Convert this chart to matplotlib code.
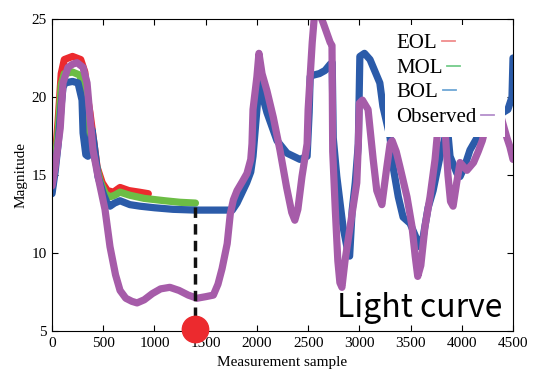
import matplotlib
matplotlib.use("Agg")
import matplotlib.pyplot as plt
from matplotlib.patches import Rectangle

# ---- data ----
obs_x = [0, 30, 60, 80, 107, 156, 200, 244, 303, 342, 371, 400, 449, 517,
         566, 620, 664, 720, 780, 830, 900, 980, 1060, 1150, 1240, 1330,
         1415, 1500, 1575, 1620, 1660, 1710, 1740, 1770, 1806, 1860, 1903,
         1940, 1952, 1962, 2000, 2020, 2050, 2098, 2160, 2225, 2290, 2340,
         2370, 2400, 2440, 2490, 2500, 2540, 2565, 2620, 2650, 2715, 2733,
         2740, 2765, 2790, 2810, 2830, 2860, 2910, 2975, 2990, 3000, 3030,
         3085, 3135, 3170, 3220, 3268, 3300, 3320, 3360, 3397, 3465, 3514,
         3545, 3570, 3600, 3641, 3690, 3739, 3760, 3800, 3840, 3865, 3890,
         3915, 3950, 3983, 4050, 4115, 4160, 4200, 4250, 4350, 4440, 4470,
         4500]
obs_y = [14.3, 15.5, 17.0, 18.0, 20.9, 21.9, 22.1, 22.2, 21.9, 20.9, 18.7,
         16.6, 14.9, 12.8, 10.4, 8.6, 7.6, 7.1, 6.9, 6.8, 7.0, 7.4, 7.7, 7.8,
         7.6, 7.3, 7.1, 7.2, 7.3, 8.0, 9.0, 10.6, 12.5, 13.4, 14.0, 14.6,
         15.1, 16.0, 17.0, 19.2, 21.3, 22.8, 21.5, 20.4, 18.7, 16.6, 14.2,
         12.6, 12.1, 12.8, 14.9, 17.0, 19.2, 23.5, 25.5, 25.2, 24.7, 23.5,
         23.3, 16.5, 12.8, 9.5, 8.1, 7.8, 9.5, 11.7, 14.5, 17.0, 19.6, 19.8,
         19.2, 16.0, 14.0, 13.1, 15.5, 17.0, 17.2, 16.5, 15.5, 13.6, 11.7,
         9.8, 8.5, 9.2, 11.7, 13.6, 16.0, 17.5, 18.5, 17.6, 15.0, 13.3, 13.0,
         14.5, 15.8, 15.3, 15.8, 16.5, 17.2, 18.5, 19.5, 17.4, 16.8, 16.0]

bol_x = [0, 30, 60, 90, 107, 127, 200, 254, 293, 303, 330, 350, 370, 390,
         410, 449, 500, 537, 566, 610, 664, 760, 860, 1000, 1181, 1400, 1640,
         1760, 1806, 1835, 1900, 1940, 1962, 2000, 2020, 2040, 2098, 2196,
         2294, 2420, 2490, 2510, 2520, 2550, 2610, 2665, 2715, 2735, 2745,
         2780, 2840, 2890, 2905, 2930, 2960, 2990, 3005, 3050, 3104, 3200,
         3230, 3300, 3330, 3380, 3427, 3495, 3540, 3590, 3622, 3671, 3720,
         3788, 3836, 3860, 3885, 3953, 3983, 4030, 4080, 4150, 4250, 4350,
         4450, 4490, 4500]
bol_y = [13.8, 15.2, 17.0, 19.5, 20.6, 20.9, 21.0, 20.9, 19.8, 17.7, 16.3,
         16.2, 17.0, 17.9, 17.0, 14.9, 13.8, 13.2, 13.0, 13.2, 13.35, 13.1,
         13.0, 12.9, 12.8, 12.75, 12.75, 12.75, 13.2, 13.6, 14.5, 15.2, 16.2,
         19.2, 20.9, 20.4, 19.0, 17.2, 16.4, 16.0, 16.2, 19.0, 21.3, 21.4,
         21.5, 21.7, 22.1, 22.2, 17.4, 14.9, 11.7, 10.0, 9.8, 12.75, 14.5,
         17.0, 22.6, 22.8, 22.4, 20.9, 19.4, 17.4, 15.5, 13.6, 12.3, 11.9,
         11.2, 10.4, 11.0, 12.9, 14.0, 16.2, 17.4, 18.0, 16.2, 15.1, 14.9,
         15.6, 16.6, 17.4, 18.2, 18.8, 19.2, 20.0, 22.5]

mol_x = [0, 30, 60, 90, 120, 200, 273, 300, 330, 370, 420, 470, 520, 566,
         610, 664, 760, 900, 1100, 1250, 1400]
mol_y = [14.0, 15.8, 17.8, 20.8, 21.5, 21.6, 21.4, 20.5, 18.5, 17.5, 16.0,
         14.6, 13.8, 13.6, 13.7, 13.9, 13.7, 13.5, 13.35, 13.25, 13.2]

eol_x = [0, 30, 60, 90, 120, 200, 280, 320, 345, 370, 400, 440, 490, 540,
         600, 664, 750, 850, 940]
eol_y = [14.0, 16.0, 18.5, 21.5, 22.4, 22.6, 22.4, 21.6, 20.0, 19.0, 17.5,
         15.5, 14.5, 14.0, 13.9, 14.2, 14.0, 13.9, 13.8]

cut_x = 1400
cut_top = 12.95
cut_bottom = 5.0

labels = ["EOL", "MOL", "BOL", "Observed"]
colors = {
    "EOL": "#ec2a2e",
    "MOL": "#6cbd45",
    "BOL": "#2b5ba9",
    "Observed": "#a65ca9",
}
key_colors = {
    "EOL": "#f08c8c",
    "MOL": "#74cc8a",
    "BOL": "#6ea7d6",
    "Observed": "#b48fcb",
}

plt.rcParams["font.family"] = ["Liberation Serif", "DejaVu Serif"]

fig, ax = plt.subplots(figsize=(5.33, 3.69), dpi=100)
fig.subplots_adjust(left=0.0976, right=0.9625, bottom=0.103, top=0.9485)

band = dict(lw=5.2, solid_capstyle="round", solid_joinstyle="round")
ax.plot(eol_x, eol_y, color=colors["EOL"], **band)
ax.plot(mol_x, mol_y, color=colors["MOL"], **band)
ax.plot(bol_x, bol_y, color=colors["BOL"], **band)
ax.plot(obs_x, obs_y, color=colors["Observed"], **band)

# cut-off marker
ax.plot([cut_x, cut_x], [cut_top, cut_bottom], color="#111111", lw=2.5,
        ls=(0, (3, 1.8)), zorder=5)
ax.plot([cut_x], [cut_bottom + 0.1], "o", color="#ec2a2e", ms=19,
        clip_on=False, zorder=6)

ax.text(2780, 5.9, "Light curve", fontsize=23,
        family=["Noto Sans CJK JP", "DejaVu Sans"], va="baseline", zorder=7)

ax.set_xlim(0, 4500)
ax.set_ylim(5, 25)
ax.set_xticks(range(0, 4501, 500))
ax.set_yticks([5, 10, 15, 20, 25])
ax.tick_params(direction="in", top=True, right=True, length=4,
               labelsize=11, pad=4)
ax.set_xlabel("Measurement sample", fontsize=11, labelpad=5)
ax.set_ylabel("Magnitude", fontsize=11, labelpad=3)

# gnuplot-like opaque key: label first, short sample line right after it
ax.add_patch(Rectangle((0.722, 0.622), 0.26, 0.36, transform=ax.transAxes,
                       facecolor="white", edgecolor="none", zorder=8))
texts = []
for i, name in enumerate(labels):
    t = ax.text(0.746, 0.907 - i * 0.079, name, fontsize=15,
                transform=ax.transAxes, va="baseline", zorder=9)
    texts.append(t)
fig.canvas.draw()
inv = ax.transAxes.inverted()
for t, name in zip(texts, labels):
    x0 = t.get_window_extent().x1 + 5
    base = ax.transAxes.transform(t.get_position())[1]
    p0 = inv.transform((x0, base + 7))
    p1 = inv.transform((x0 + 13, base + 7))
    ax.plot([p0[0], p1[0]], [p0[1], p1[1]], color=key_colors[name], lw=1.3,
            transform=ax.transAxes, zorder=9, clip_on=False)

fig.savefig("out.png", dpi=100)
